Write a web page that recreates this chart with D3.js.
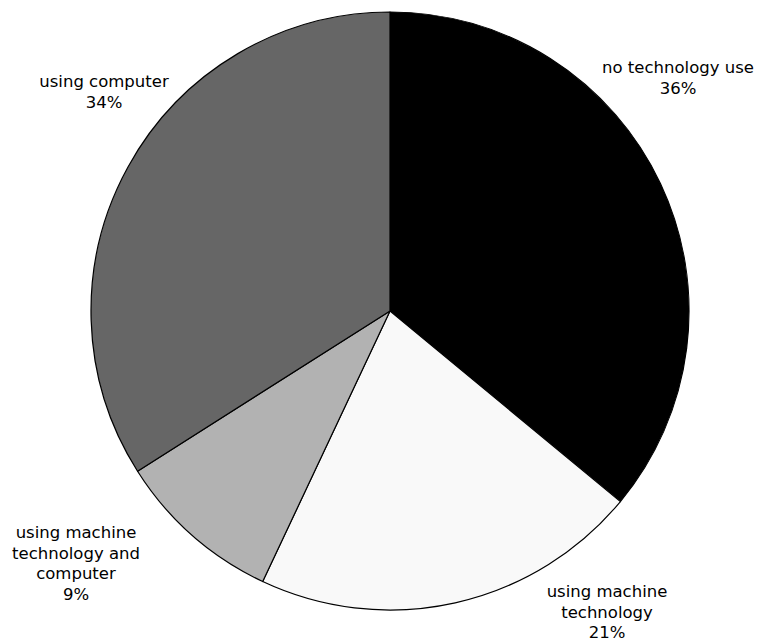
<!DOCTYPE html>
<html>
<head>
<meta charset="utf-8">
<script src="https://cdn.jsdelivr.net/npm/d3@7"></script>
<style>
  html, body { margin: 0; padding: 0; background: #ffffff; }
  svg { display: block; }
  text { font-family: "DejaVu Sans", "Open Sans", sans-serif; font-size: 16.5px; fill: #000; }
</style>
</head>
<body>
<svg id="chart" width="758" height="642"></svg>
<script>
// Data
const categories = ["no technology use", "using machine technology", "using machine technology and computer", "using computer"];
const values = [36, 21, 9, 34];
const labelLines = [
  ["no technology use", "36%"],
  ["using machine", "technology", "21%"],
  ["using machine", "technology and", "computer", "9%"],
  ["using computer", "34%"]
];
const colors = ["#000000", "#f9f9f9", "#b2b2b2", "#666666"];

// Layout
const width = 758, height = 642;
const cx = 390, cy = 311, radius = 299;
// label anchor (center x, first baseline y)
const labelPos = [
  [678, 73],
  [607, 597],
  [76, 538],
  [104, 87]
];
const lineH = 20.5;

const svg = d3.select("#chart");
const g = svg.append("g").attr("transform", `translate(${cx},${cy})`);

const pie = d3.pie().sort(null).value(d => d.value);
const arc = d3.arc().innerRadius(0).outerRadius(radius);

const data = categories.map((c, i) => ({ name: c, value: values[i], color: colors[i], lines: labelLines[i] }));

g.selectAll("path")
  .data(pie(data))
  .join("path")
  .attr("d", arc)
  .attr("fill", d => d.data.color)
  .attr("stroke", "#000")
  .attr("stroke-width", 1.2)
  .attr("stroke-linejoin", "round");

const labels = svg.append("g");
data.forEach((d, i) => {
  d.lines.forEach((line, j) => {
    labels.append("text")
      .attr("x", labelPos[i][0])
      .attr("y", labelPos[i][1] + j * lineH)
      .attr("text-anchor", "middle")
      .text(line);
  });
});
</script>
</body>
</html>
